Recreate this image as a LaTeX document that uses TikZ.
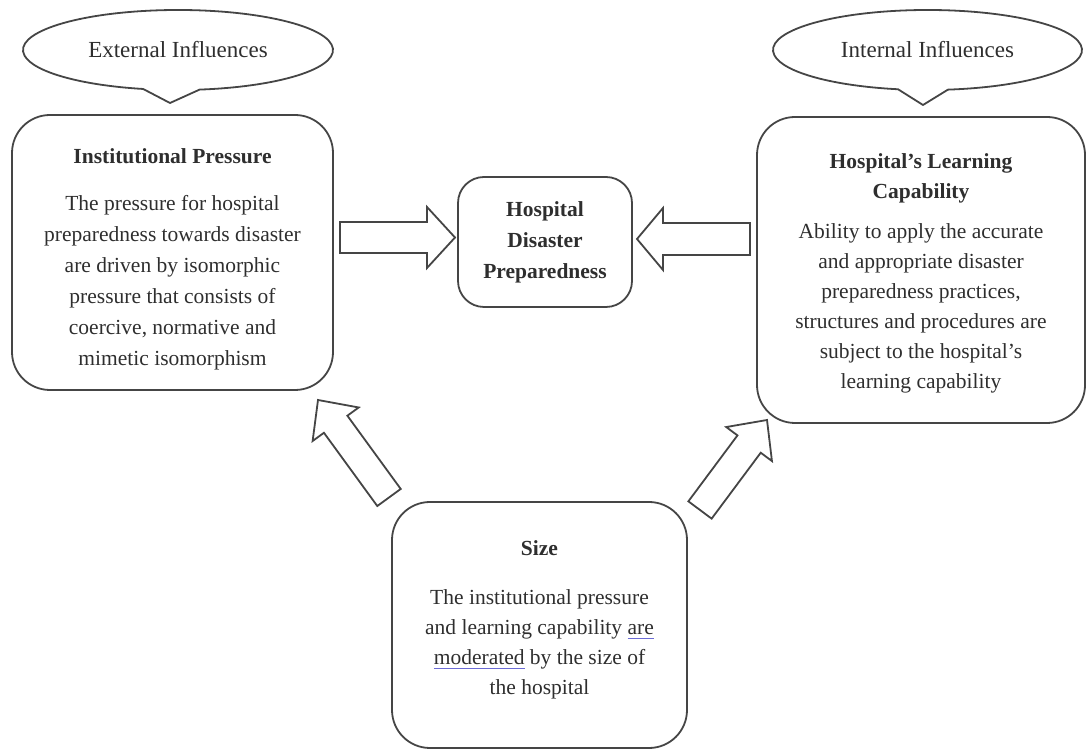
\documentclass[tikz,border=0pt]{standalone}
\usepackage{fontspec}
\setmainfont{Liberation Serif}
\usetikzlibrary{calc,shapes.geometric}
\definecolor{ln}{HTML}{454545}
\definecolor{tx}{HTML}{2E2E2E}
\definecolor{spell}{HTML}{6B6BD6}
\newcommand\spellul[1]{\setbox0=\hbox{#1}\rlap{\textcolor{spell}{\rule[-4pt]{\wd0}{0.7pt}}}\box0\relax}
\newcommand\fatarrow[5]{%
  \coordinate (#2-b) at ($(#2)!#5!(#1)$);
  \draw[fat] ($(#1)!#3!90:(#2)$) -- ($(#2-b)!#3!90:(#2)$) -- ($(#2-b)!#4!90:(#2)$) -- (#2)
    -- ($(#2-b)!#4!-90:(#2)$) -- ($(#2-b)!#3!-90:(#2)$) -- ($(#1)!#3!-90:(#2)$) -- cycle;}
\begin{document}
\begin{tikzpicture}[x=1pt,y=1pt,
  box/.style={draw=ln, line width=1.8pt, rounded corners=38pt, inner sep=0pt},
  txt/.style={align=center, text=tx, font=\fontsize{21.5}{31}\selectfont, inner sep=0pt},
  bubble/.style={ellipse, draw=none, text=tx, font=\fontsize{23}{28}\selectfont, inner sep=0pt},
  outline/.style={draw=ln, line width=1.8pt, line join=round},
  fat/.style={draw=ln, line width=1.8pt, line join=miter, fill=white},
]
\useasboundingbox (0,0) rectangle (1086,749);

% callouts
\node[bubble, minimum width=310pt, minimum height=80pt] (ext) at (178,699) {External Influences};
\coordinate (exttip) at (170,646);
\draw[outline] (ext.center) ++(278:155pt and 40pt)
  arc[start angle=278, end angle=617, x radius=155pt, y radius=40pt] -- (exttip) -- cycle;

\node[bubble, minimum width=309pt, minimum height=80pt] (int) at (927.5,699) {Internal Influences};
\coordinate (inttip) at (923,644);
\draw[outline] (int.center) ++(277.6:154.5pt and 40pt)
  arc[start angle=277.6, end angle=619, x radius=154.5pt, y radius=40pt] -- (inttip) -- cycle;

% boxes
\node[box, minimum width=321pt, minimum height=275pt] (inst) at (172.5,496.5) {};
\node[txt] (inst-t) at ($(inst.center)+(0,-7)$)
  {\textbf{Institutional Pressure}\\[16pt]The pressure for hospital\\preparedness towards disaster\\are driven by isomorphic\\pressure that consists of\\coercive, normative and\\mimetic isomorphism};

\node[box, minimum width=328pt, minimum height=306pt] (learn) at (921,479) {};
\node[txt] (learn-t) at ($(learn.center)+(0,-3)$)
  {\textbf{Hospital's Learning}\\[-1pt]\textbf{Capability}\\[9pt]Ability to apply the accurate\\[-1pt]and appropriate disaster\\[-1pt]preparedness practices,\\[-1pt]structures and procedures are\\[-1pt]subject to the hospital's\\[-1pt]learning capability};

\node[box, rounded corners=26pt, minimum width=174pt, minimum height=130pt] (mid) at (545,507) {};
\node[txt] (mid-t) at (mid.center)
  {\textbf{Hospital}\\\textbf{Disaster}\\\textbf{Preparedness}};

\node[box, minimum width=295pt, minimum height=246pt] (size) at (539.5,124) {};
\node[txt] (size-t) at ($(size.center)+(0,5)$)
  {\textbf{Size}\\[18pt]The institutional pressure\\[-1pt]and learning capability \spellul{are}\\[-1pt]\spellul{moderated} by the size of\\[-1pt]the hospital};

% block arrows
\coordinate (a1t) at (340,511.5); \coordinate (a1h) at (455,511.5);
\coordinate (a2t) at (750,510);   \coordinate (a2h) at (637,510);
\coordinate (a3t) at (389,251.5); \coordinate (a3h) at (318,349);
\coordinate (a4t) at (700,239);   \coordinate (a4h) at (767,329);
\fatarrow{a1t}{a1h}{15.5pt}{30.5pt}{28pt}
\fatarrow{a2t}{a2h}{16pt}{31pt}{26pt}
\fatarrow{a3t}{a3h}{14.5pt}{28.5pt}{30pt}
\fatarrow{a4t}{a4h}{14.5pt}{28.5pt}{30pt}
\end{tikzpicture}
\end{document}
